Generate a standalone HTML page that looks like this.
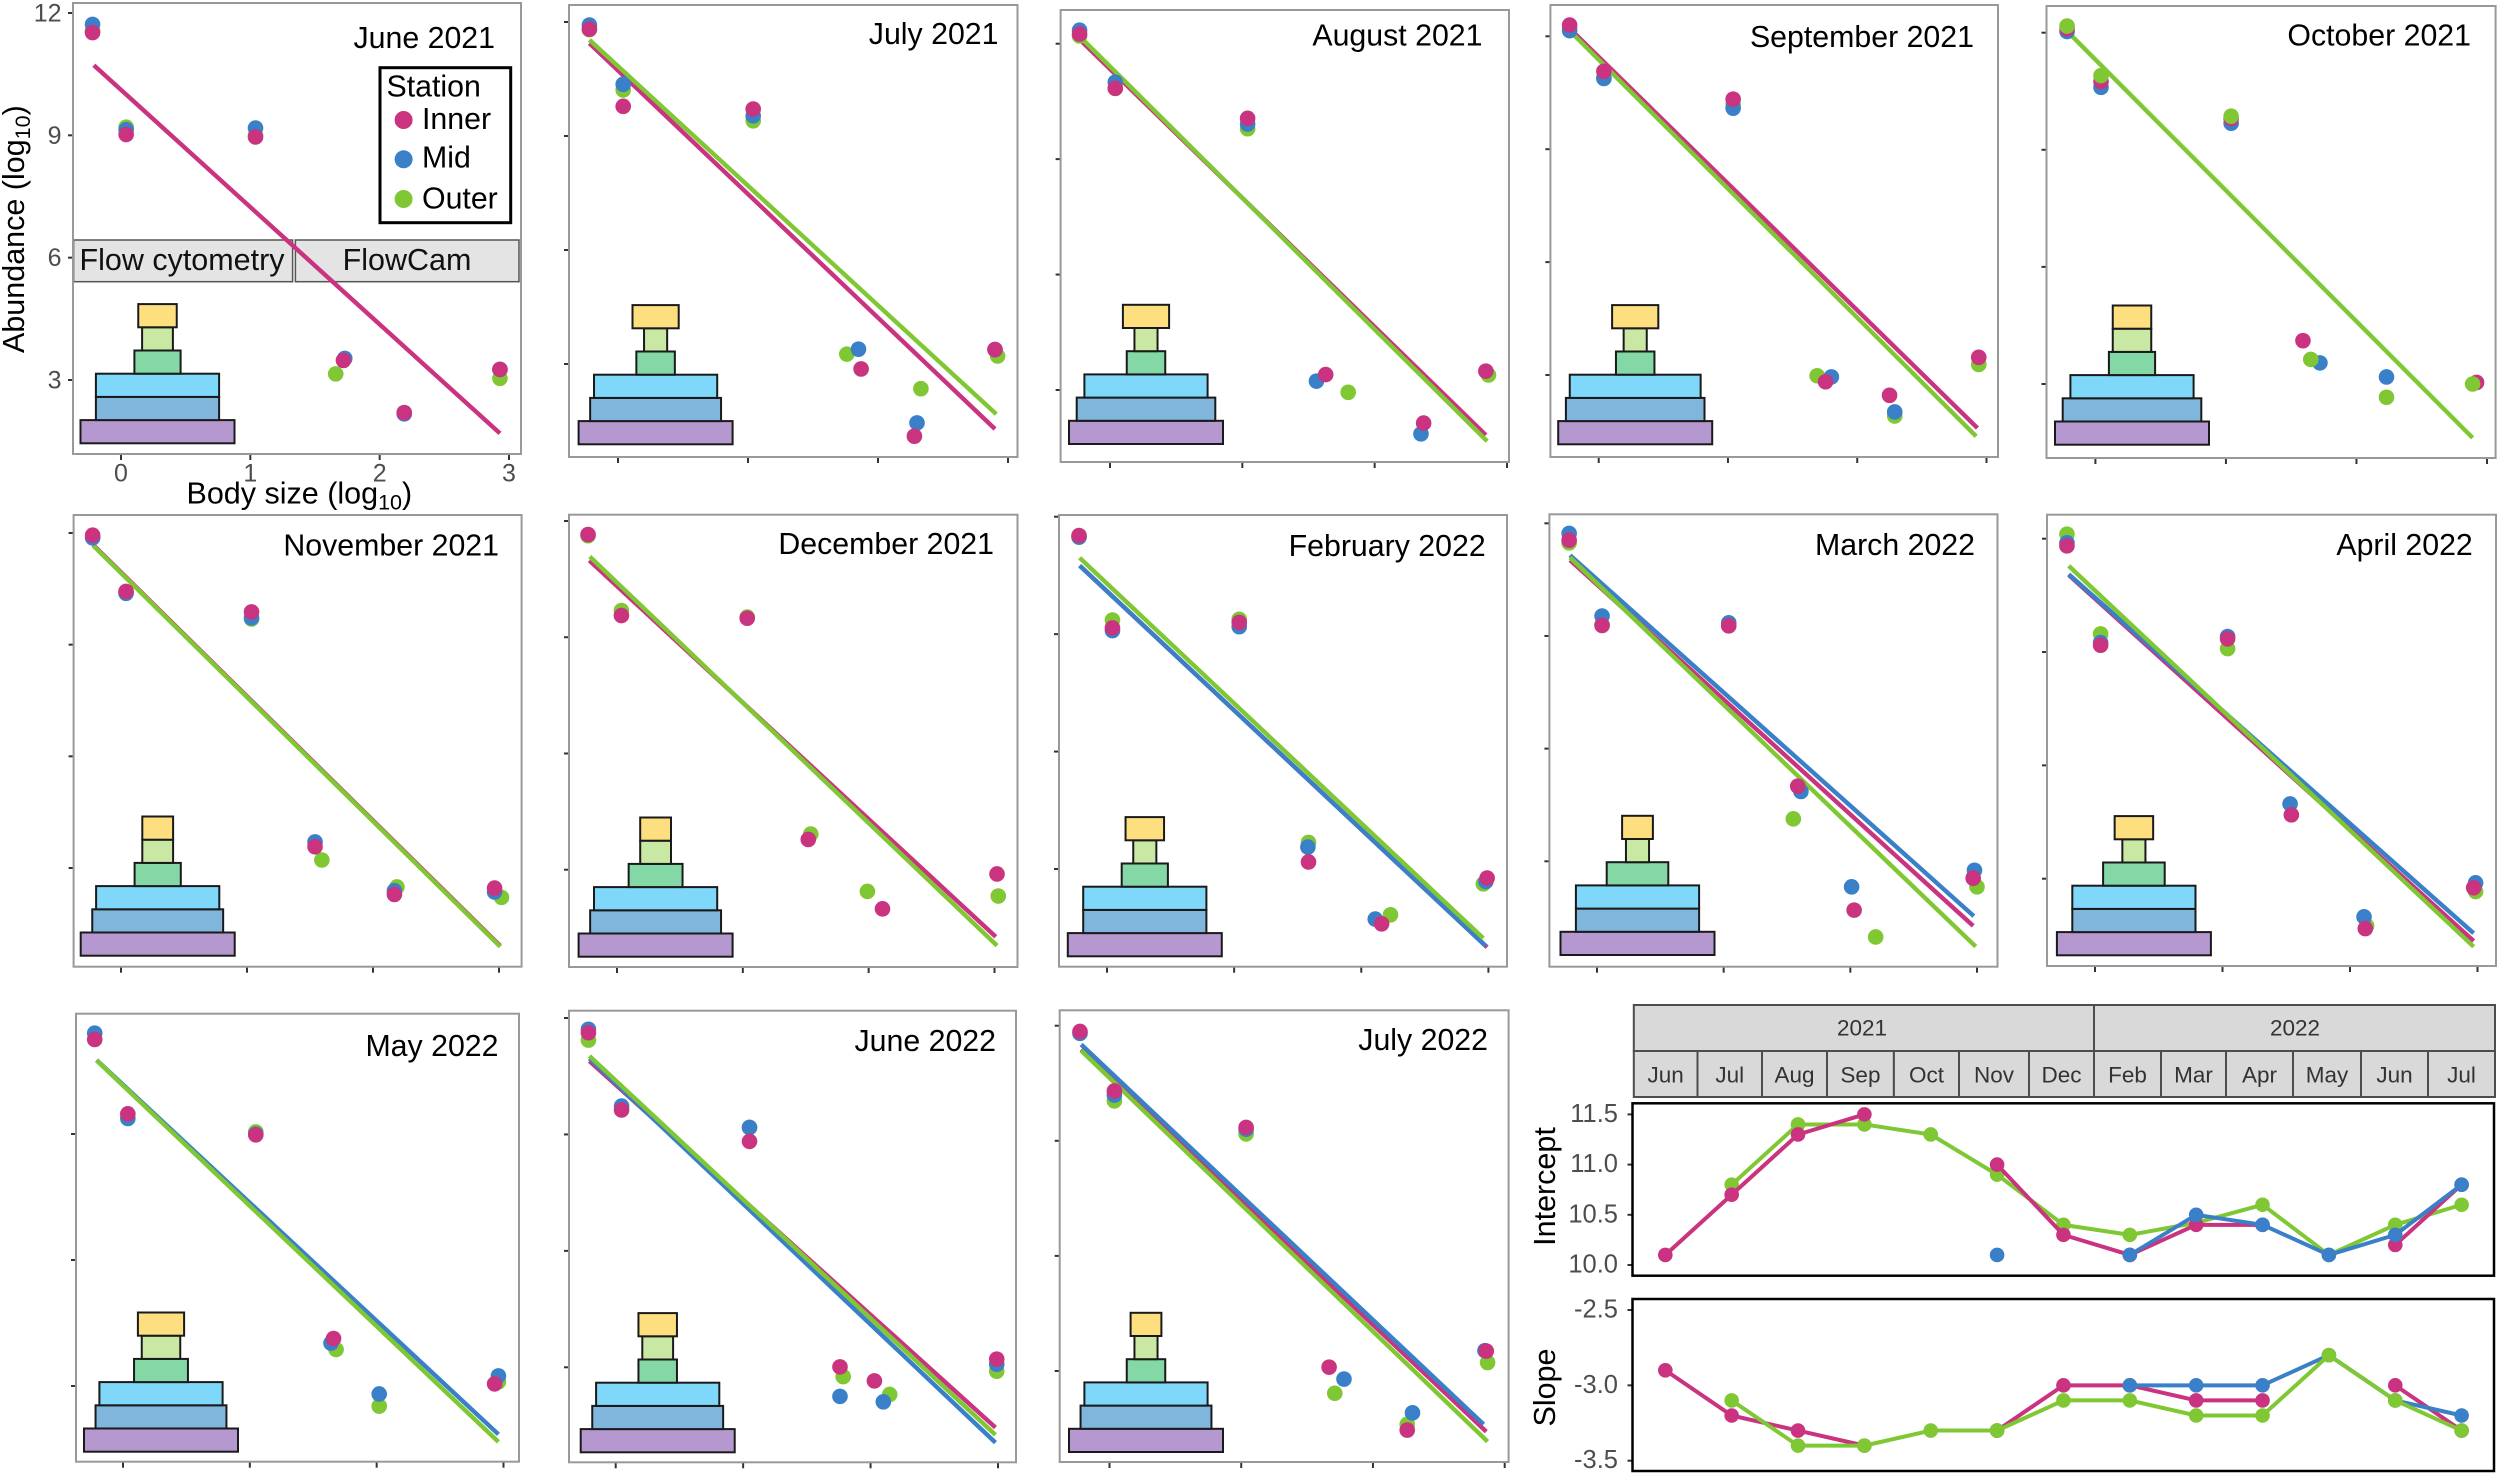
<!DOCTYPE html>
<html lang="en">
<head>
<meta charset="utf-8">
<title>Size spectra by month</title>
<style>
html,body{margin:0;padding:0;background:#fff;}
svg{display:block;font-family:"Liberation Sans",Arial,sans-serif;}
</style>
</head>
<body>
<svg id="figure" xmlns="http://www.w3.org/2000/svg" width="2500" height="1475" viewBox="0 0 2500 1475">
<rect x="0" y="0" width="2500" height="1475" fill="#fff"/>
<g>
  <rect x="73.6" y="240" width="219" height="41.7" fill="#e4e4e4" stroke="#555" stroke-width="1.5"/>
  <text x="182" y="270" font-size="30.5" text-anchor="middle" fill="#111">Flow cytometry</text>
  <rect x="295.4" y="240" width="223.6" height="41.7" fill="#e4e4e4" stroke="#555" stroke-width="1.5"/>
  <text x="407" y="270" font-size="30.5" text-anchor="middle" fill="#111">FlowCam</text>
</g>
<g id="panels"></g>
<g id="overlay">
  <g>
    <rect x="380" y="67.7" width="130.7" height="155" fill="#fff" stroke="#000" stroke-width="3"/>
    <text x="386.5" y="96.7" font-size="30.3" fill="#000">Station</text>
    <circle cx="403.6" cy="120" r="9" fill="#c9337f"/>
    <text x="422" y="129" font-size="30.3" fill="#000">Inner</text>
    <circle cx="403.6" cy="159.3" r="9" fill="#3a80c8"/>
    <text x="422" y="167.7" font-size="30.3" fill="#000">Mid</text>
    <circle cx="403.6" cy="199" r="9" fill="#80c734"/>
    <text x="422" y="208.3" font-size="30.3" fill="#000">Outer</text>
  </g>
  <text transform="translate(24,353) rotate(-90)" font-size="30.5" fill="#000">Abundance (log<tspan font-size="21.5" dy="6">10</tspan><tspan dy="-6">)</tspan></text>
  <text x="186.5" y="503.3" font-size="30.5" fill="#000">Body size (log<tspan font-size="21.5" dy="6">10</tspan><tspan dy="-6">)</tspan></text>
</g>
<g id="trends">
  <g>
    <rect x="1633.8" y="1005" width="460.2" height="46" fill="#d9d9d9" stroke="#4d4d4d" stroke-width="2"/>
    <text x="1862" y="1035.7" font-size="22.5" text-anchor="middle" fill="#333">2021</text>
    <rect x="2094" y="1005" width="401" height="46" fill="#d9d9d9" stroke="#4d4d4d" stroke-width="2"/>
    <text x="2295" y="1035.7" font-size="22.5" text-anchor="middle" fill="#333">2022</text>
  </g>
  <text transform="translate(1555,1186.5) rotate(-90)" font-size="30.5" text-anchor="middle" fill="#000">Intercept</text>
  <text transform="translate(1555,1387.5) rotate(-90)" font-size="30.5" text-anchor="middle" fill="#000">Slope</text>
</g>
</svg>
<script>
// ---------- chart data ----------
const panelTitles = ["June 2021","July 2021","August 2021","September 2021","October 2021","November 2021","December 2021","February 2022","March 2022","April 2022","May 2022","June 2022","July 2022"];
const stations = ["inner","mid","outer"];
const xTickValues = [0,1,2,3];
const yTickValues = [12,9,6,3];

const innerX = [
[-.22,.04,1.04,1.72,2.19,2.93],[-.22,.04,1.04,1.87,2.28,2.90],[-.23,.04,1.04,1.63,2.37,2.84],
[-.225,.04,1.04,1.755,2.25,2.94],[-.217,.043,1.04,1.59,null,2.92],[-.225,.04,1.036,1.54,2.17,2.965],
[-.23,.035,1.035,1.52,2.11,3.02],[-.22,.043,1.04,1.585,2.16,2.99],[-.22,.04,1.04,1.585,2.03,2.97],
[-.22,.044,1.04,1.54,2.12,2.97],[-.223,.038,1.047,1.66,null,2.93],[-.214,.046,1.05,1.76,2.03,2.99],
[-.224,.037,1.037,1.667,2.26,2.86]];
const innerY = [
[11.52,9.02,8.96,3.48,2.2,3.26],[11.81,9.78,9.71,2.87,1.10,3.38],[12.25,10.84,10.06,3.40,2.14,3.49],
[12.30,11.07,10.33,2.82,2.46,3.47],[12.1,10.75,9.8,4.11,null,3.04],[11.94,10.43,9.88,3.57,2.29,2.46],
[11.65,9.56,9.49,3.78,1.99,2.89],[11.52,9.16,9.30,3.18,1.60,2.77],[11.55,9.28,9.27,5.0,1.70,2.55],
[11.81,9.18,9.35,4.69,1.68,2.76],[11.25,9.48,8.98,4.13,null,3.05],[11.62,9.63,8.82,3.01,2.65,3.21],
[11.85,10.30,9.35,3.10,1.46,3.52]];
const midX = [
[-.22,.04,1.04,1.73,2.19,2.93],[-.22,.04,1.04,1.85,2.30,2.90],[-.23,.04,1.04,1.56,2.35,null],
[-.225,.04,1.04,1.80,2.29,null],[-.217,.043,1.04,1.72,2.23,null],[-.225,.04,1.036,1.54,2.17,2.965],
[null,null,null,null,null,null],[-.22,.043,1.04,1.58,2.11,2.98],[-.22,.04,1.04,1.61,2.01,2.98],
[-.22,.044,1.04,1.53,2.11,2.985],[-.223,.038,1.047,1.64,2.02,2.96],[-.214,.046,1.05,1.76,2.10,2.99],
[-.224,.037,1.037,1.78,2.30,2.85]];
const midY = [
[11.72,9.14,9.18,3.53,2.17,3.26],[11.92,10.36,9.53,3.39,1.45,3.38],[12.35,11.0,9.91,3.23,1.86,null],
[12.15,10.88,10.09,2.95,2.02,null],[12.03,10.6,9.68,3.54,3.18,null],[11.87,10.38,9.72,3.70,2.39,2.355],
[null,null,null,null,null,null],[11.48,9.09,9.19,3.56,1.72,2.68],[11.73,9.53,9.35,4.86,2.32,2.76],
[11.89,9.25,9.41,4.98,1.99,2.89],[11.40,9.37,9.0,4.02,2.81,3.24],[11.71,9.73,9.18,2.25,2.11,3.08],
[11.8,10.19,9.3,2.79,1.91,3.53]];
const outerX = [
[-.22,.04,1.04,1.66,2.19,2.93],[-.22,.04,1.04,1.76,2.33,2.92],[-.23,.04,1.04,1.80,null,2.86],
[-.225,.04,1.04,1.69,2.29,2.94],[-.217,.043,1.04,1.65,2.23,2.89],[-.225,.04,1.036,1.594,2.19,3.02],
[-.23,.035,1.035,1.54,1.99,3.03],[-.22,.043,1.04,1.585,2.23,2.96],[-.22,.04,null,1.55,2.2,3.0],
[-.22,.044,1.04,null,2.13,2.985],[null,null,1.047,1.68,2.02,2.96],[-.214,null,1.05,1.785,2.15,2.99],
[null,.037,1.037,1.71,2.26,2.87]];
const outerY = [
[11.56,9.2,9.0,3.15,2.2,3.04],[11.8,10.21,9.40,3.26,2.35,3.21],[12.2,10.84,9.79,2.94,null,3.39],
[12.2,10.9,10.2,2.98,1.91,3.28],[12.17,10.9,9.86,3.63,2.66,3.0],[11.9,10.4,9.69,3.215,2.49,2.21],
[11.62,9.69,9.52,3.92,2.44,2.32],[11.48,9.36,9.38,3.68,1.83,2.62],[11.48,9.3,null,4.13,.985,2.32],
[12.12,9.48,9.09,null,1.75,2.66],[null,null,9.05,3.87,2.52,3.10],[11.43,null,9.18,2.76,2.30,2.90],
[null,10.04,9.18,2.42,1.61,3.22]];

// regression lines per panel: [size start, abundance start, size end, abundance end]
const innerFit = [
[-.21,10.72,2.93,1.69],[-.22,11.44,2.90,1.29],[-.23,12.11,2.84,1.83],[-.225,12.21,2.93,1.59],null,
[-.22,11.68,3.01,.91],[-.22,10.98,3.01,1.27],[-.215,10.75,2.99,1.0],[-.213,11.02,2.97,1.28],
[-.206,11.04,2.97,1.35],null,[-.206,10.89,2.98,1.45],[-.215,11.38,2.86,1.42]];
const midFit = [
null,null,null,null,null,null,null,
[-.215,10.75,2.98,1.03],[-.213,11.15,2.975,1.54],[-.206,11.06,2.97,1.555],
[-.208,10.76,2.96,1.85],[-.206,10.96,2.98,1.06],[-.215,11.51,2.84,1.61]];
const outerFit = [
null,[-.22,11.53,2.91,1.68],[-.22,12.16,2.85,1.67],[-.216,12.12,2.92,1.37],[-.217,12.04,2.89,1.62],
[-.22,11.66,3.01,.885],[-.216,11.08,3.02,1.04],[-.215,10.95,2.96,1.23],[-.213,11.09,2.99,.73],
[-.206,11.28,2.97,1.2],[-.208,10.75,2.96,1.67],[-.206,11.02,2.98,1.26],[-.215,11.35,2.87,1.16]];

// trophic pyramid layer sizes, bottom to top: purple, blue, cyan, green, light green, yellow
const pyramidLayers = ["purple","blue","cyan","green","light-green","yellow"];
const pyramidSizes = [
[20,16,16,6,4,5],[20,17,16,5,3,6],[20,18,16,5,3,6],[20,18,17,5,3,6],[20,18,16,6,5,5],
[20,17,16,6,4,4],[20,17,16,7,4,4],[20,16,16,6,3,5],[20,16,16,8,3,4],[20,16,16,8,3,5],
[20,17,16,7,5,6],[20,17,16,5,4,5],[20,17,16,5,3,4]];

// trend panels
const monthLabels = ["Jun","Jul","Aug","Sep","Oct","Nov","Dec","Feb","Mar","Apr","May","Jun","Jul"];
const interceptTicks = [11.5,11.0,10.5,10.0];
const slopeTicks = [-2.5,-3.0,-3.5];
const interceptInner = [10.1,10.7,11.3,11.5,null,11.0,10.3,10.1,10.4,10.4,null,10.2,10.8];
const interceptMid = [null,null,null,null,null,10.1,null,10.1,10.5,10.4,10.1,10.3,10.8];
const interceptOuter = [null,10.8,11.4,11.4,11.3,10.9,10.4,10.3,null,10.6,10.1,10.4,10.6];
const interceptOuterLine = [null,10.8,11.4,11.4,11.3,10.9,10.4,10.3,10.42,10.6,10.1,10.4,10.6];
const slopeInner = [-2.9,-3.2,-3.3,-3.4,null,-3.3,-3.0,-3.0,-3.1,-3.1,null,-3.0,-3.3];
const slopeMid = [null,null,null,null,null,-3.3,null,-3.0,-3.0,-3.0,-2.8,-3.1,-3.2];
const slopeOuter = [null,-3.1,-3.4,-3.4,-3.3,-3.3,-3.1,-3.1,-3.2,-3.2,-2.8,-3.1,-3.3];

// ---------- layout (panel geometry, not data) ----------
const COLORS = {inner:"#c9337f", mid:"#3a80c8", outer:"#80c734"};
const LAYER_FILL = ["#b698d0","#80b5dc","#7fd8f9","#83d8a6","#c9e8a4","#fedf7f"];
const GEOM = [
{l:73,t:3,r:521,b:454,x0:121,x3:509,y12:13,y3:380,tr:495,tb:48,cx:157.5,pb:443.3},
{l:569,t:5,r:1017.5,b:457,x0:618,x3:1008,y12:22,y3:364,tr:998.5,tb:44,cx:655.6,pb:444.3},
{l:1060.6,t:10,r:1509,b:462,x0:1110,x3:1507,y12:43.7,y3:390,tr:1482.5,tb:45.7,cx:1146,pb:444},
{l:1550.4,t:5,r:1998,b:457,x0:1598.7,x3:1986.5,y12:36.3,y3:375,tr:1974,tb:47,cx:1635.2,pb:444.3},
{l:2046.5,t:6,r:2495.6,b:458,x0:2095.4,x3:2487,y12:32.7,y3:384,tr:2471,tb:45.7,cx:2132,pb:444.7},
{l:73.6,t:515,r:521.6,b:966.7,x0:121,x3:499,y12:533,y3:868,tr:499,tb:555.7,cx:157.7,pb:955.7},
{l:569,t:514.7,r:1017.5,b:967,x0:617,x3:994.5,y12:521,y3:869.7,tr:994,tb:554,cx:655.6,pb:956.7},
{l:1059,t:515,r:1507,b:966.7,x0:1107,x3:1488.4,y12:516.7,y3:869,tr:1485.7,tb:556,cx:1144.8,pb:956.3},
{l:1549.4,t:514.3,r:1997.5,b:966.7,x0:1597,x3:1977,y12:523.3,y3:861.3,tr:1975,tb:555,cx:1637.5,pb:955},
{l:2047,t:514.7,r:2496,b:966,x0:2095,x3:2477.5,y12:538.7,y3:878.7,tr:2472.8,tb:555,cx:2133.9,pb:955.3},
{l:76,t:1013.7,r:519,b:1461.7,x0:123,x3:503.5,y12:1008,y3:1386,tr:498.5,tb:1056,cx:161,pb:1451.7},
{l:569,t:1010.7,r:1016,b:1462.3,x0:615.7,x3:998,y12:1018,y3:1367.3,tr:996,tb:1051,cx:657.7,pb:1452.3},
{l:1059.7,t:1010.3,r:1508.6,b:1462,x0:1109.5,x3:1504.7,y12:1025.7,y3:1371,tr:1488,tb:1050,cx:1146,pb:1452}
];
const LAYER_UNIT = 7.7, LAYER_H = 23.2, DOT_R = 7.8, LINE_W = 4.4;
const NS = "http://www.w3.org/2000/svg";

function mk(tag, attrs, parent){
  const e = document.createElementNS(NS, tag);
  for (const k in attrs) e.setAttribute(k, attrs[k]);
  parent.appendChild(e);
  return e;
}
function fmtSlug(s){ return s.toLowerCase().replace(/\s+/g,'-'); }

const pointX = {inner:innerX, mid:midX, outer:outerX};
const pointY = {inner:innerY, mid:midY, outer:outerY};
const fits = {inner:innerFit, mid:midFit, outer:outerFit};

const panelsRoot = document.getElementById('panels');
panelTitles.forEach(function(title, p){
  const g = GEOM[p];
  const sx = v => g.x0 + v * (g.x3 - g.x0) / 3;
  const sy = v => g.y3 - (v - 3) * (g.y3 - g.y12) / 9;
  const slug = fmtSlug(title);

  const pg = mk('g', {}, panelsRoot);
  
  

  xTickValues.forEach(function(v){
    const t = mk('line', {x1:sx(v), x2:sx(v), y1:g.b, y2:g.b+6, stroke:'#333', 'stroke-width':2}, pg);
    
    
    if (p === 0) {
      const lab = mk('text', {x:sx(v), y:481.7, 'font-size':25, 'text-anchor':'middle', fill:'#4d4d4d'}, pg);
      lab.textContent = v;
      
      
    }
  });
  yTickValues.forEach(function(v){
    if (sy(v) < g.t) return;
    const t = mk('line', {x1:g.l-5, x2:g.l, y1:sy(v), y2:sy(v), stroke:'#333', 'stroke-width':2}, pg);
    
    
    if (p === 0) {
      const lab = mk('text', {x:61.5, y:sy(v)+8.5, 'font-size':25, 'text-anchor':'end', fill:'#4d4d4d'}, pg);
      lab.textContent = v;
      
      
    }
  });

  // trophic pyramid
  pyramidSizes[p].forEach(function(size, i){
    const w = size * LAYER_UNIT;
    const r = mk('rect', {x:g.cx - w/2, y:g.pb - (i+1)*LAYER_H, width:w, height:LAYER_H, fill:LAYER_FILL[i], stroke:'#1a1a1a', 'stroke-width':2}, pg);
    
    
  });

  // regression lines
  stations.forEach(function(s){
    const f = fits[s][p];
    if (!f) return;
    const ln = mk('line', {x1:sx(f[0]), y1:sy(f[1]), x2:sx(f[2]), y2:sy(f[3]), stroke:COLORS[s], 'stroke-width':LINE_W}, pg);
    
    
  });

  // points
  const order = p === 4 ? ['mid','inner','outer'] : ['outer','mid','inner'];
  order.forEach(function(s){
    pointX[s][p].forEach(function(xv, i){
      const yv = pointY[s][p][i];
      if (xv === null || yv === null) return;
      const c = mk('circle', {cx:sx(xv), cy:sy(yv), r:DOT_R, fill:COLORS[s]}, pg);
      
      
    });
  });

  const border = mk('rect', {x:g.l, y:g.t, width:g.r-g.l, height:g.b-g.t, fill:'none', stroke:'#999', 'stroke-width':2}, pg);
  
  

  const tt = mk('text', {x:g.tr, y:g.tb, 'font-size':30.3, 'text-anchor':'end', fill:'#000'}, pg);
  tt.textContent = title;
  
  
});

// ---------- trend panels ----------
const trendsRoot = document.getElementById('trends');
const MONTH_EDGES = [1633.8,1697.5,1762,1827,1893.9,1959,2029,2094,2161,2226,2293,2361,2428,2495];
const trendX = i => 1665.3 + 66.36 * i;

monthLabels.forEach(function(m, i){
  const r = mk('rect', {x:MONTH_EDGES[i], y:1051, width:MONTH_EDGES[i+1]-MONTH_EDGES[i], height:46, fill:'#d9d9d9', stroke:'#4d4d4d', 'stroke-width':2}, trendsRoot);
  
  
  const t = mk('text', {x:(MONTH_EDGES[i]+MONTH_EDGES[i+1])/2, y:1082.7, 'font-size':22.5, 'text-anchor':'middle', fill:'#333'}, trendsRoot);
  t.textContent = m;
  
  
});

function drawTrend(name, box, ticks, scale, series){
  const tg = mk('g', {}, trendsRoot);
  
  
  ticks.forEach(function(v){
    const t = mk('line', {x1:box.l-5, x2:box.l, y1:scale(v), y2:scale(v), stroke:'#333', 'stroke-width':2}, tg);
    
    
    const lab = mk('text', {x:1618, y:scale(v)+7.5, 'font-size':25.5, 'text-anchor':'end', fill:'#4d4d4d'}, tg);
    lab.textContent = v.toFixed(1);
    
    
  });
  series.forEach(function(s){
    let run = [];
    const lineVals = s.line || s.vals;
    const flush = function(){
      if (run.length > 1) {
        const pl = mk('polyline', {points:run.join(' '), fill:'none', stroke:COLORS[s.key], 'stroke-width':4, 'stroke-linejoin':'round'}, tg);
        
        
      }
      run = [];
    };
    lineVals.forEach(function(v, i){
      if (v === null) { flush(); return; }
      run.push(trendX(i) + ',' + scale(v));
    });
    flush();
    s.vals.forEach(function(v, i){
      if (v === null) return;
      const c = mk('circle', {cx:trendX(i), cy:scale(v), r:7.3, fill:COLORS[s.key]}, tg);
      
      
    });
  });
  const b = mk('rect', {x:box.l, y:box.t, width:box.r-box.l, height:box.b-box.t, fill:'none', stroke:'#000', 'stroke-width':2.5}, tg);
  
  
}
drawTrend('intercept', {l:1632.5,t:1103.3,r:2494,b:1275.7}, interceptTicks,
  v => 1265 - (v - 10) * 100.4,
  [{key:'outer', vals:interceptOuter, line:interceptOuterLine},{key:'inner', vals:interceptInner},{key:'mid', vals:interceptMid}]);
drawTrend('slope', {l:1632.5,t:1299,r:2494,b:1471}, slopeTicks,
  v => 1310 + (-2.5 - v) * 150.7,
  [{key:'inner', vals:slopeInner},{key:'mid', vals:slopeMid},{key:'outer', vals:slopeOuter}]);
</script>
</body>
</html>
